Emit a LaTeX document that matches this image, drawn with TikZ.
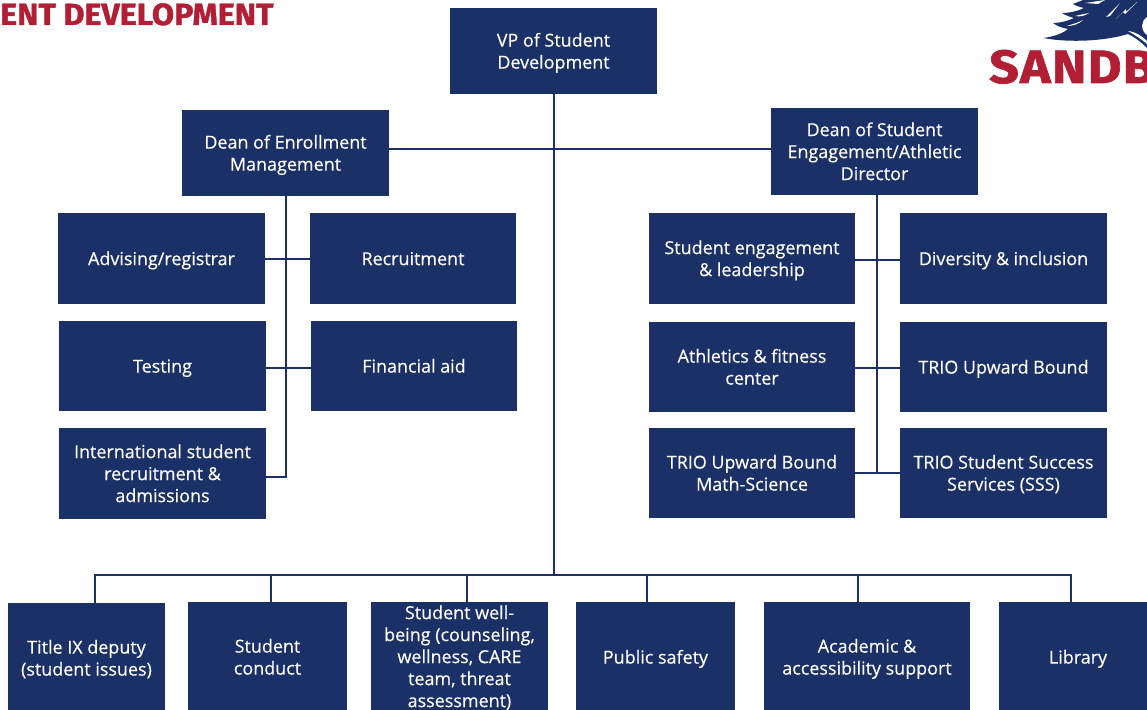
\documentclass[tikz,border=0pt]{standalone}
\usepackage{fontspec}
\setmainfont{Open Sans}[FakeBold=0.3]
\newfontfamily\logofont{Fira Sans}[UprightFont=* Bold,BoldFont=* Bold,FakeBold=1.2,FakeStretch=1.05]
\newfontfamily\logobig{Fira Sans}[UprightFont=* Bold,BoldFont=* Bold,FakeBold=1.5,FakeStretch=1.11,LetterSpace=3]
\definecolor{navy}{HTML}{1C3068}
\definecolor{sbred}{HTML}{B21F35}
\tikzset{
  box/.style={fill=navy,draw=none,text=white,inner sep=0pt,font=\fontsize{13.45}{16.5}\selectfont,anchor=center},
  link/.style={draw=navy,line width=1.4pt},
  logotext/.style={text=sbred,inner sep=0pt,anchor=base west}
}
\newsavebox{\lblbox}
% #1 name, #2 x1, #3 y1, #4 x2, #5 y2, #6 text
\newcommand{\orgbox}[6]{%
  \pgfmathsetmacro{\bw}{(#4-#2)*0.75}\pgfmathsetmacro{\bh}{(#5-#3)*0.75}%
  \node[box,minimum width=\bw pt,minimum height=\bh pt] (#1) at ({(#2+#4)/2},{(#3+#5)/2})
    {\sbox{\lblbox}{\begin{tabular}{@{}c@{}}#6\end{tabular}}\raisebox{-1.65pt}[\ht\lblbox][\dp\lblbox]{\usebox{\lblbox}}};}
\begin{document}
\begin{tikzpicture}[x=0.75pt,y=-0.75pt]
\useasboundingbox (0,0) rectangle (1147,710);
\clip (0,0) rectangle (1147,710);
% header text and logo
\node[logotext,font=\logofont\fontsize{23}{23}\selectfont] (header) at (0,25) {ENT DEVELOPMENT};
\fill[navy] (1043,38) .. controls (1052,37) and (1062,34) .. (1068,29)
  .. controls (1062,28) and (1057,26) .. (1053,23)
  .. controls (1060,23) and (1068,21) .. (1074,18)
  .. controls (1070,17) and (1065,15) .. (1062,13)
  .. controls (1070,13) and (1078,11) .. (1084,8)
  .. controls (1080,7) and (1076,6) .. (1073,4)
  -- (1083,0) -- (1147,0) -- (1147,48)
  .. controls (1141,42) and (1136,38) .. (1128,34)
  .. controls (1105,41) and (1070,43) .. (1043,38) -- cycle;
\fill[white] (1067,26) .. controls (1072,24) and (1078,23) .. (1083,20) .. controls (1079,24) and (1073,26) .. (1067,26) -- cycle
  (1075,16) .. controls (1079,15) and (1084,14) .. (1089,13) .. controls (1085,16) and (1080,17) .. (1075,16) -- cycle
  (1085,3) -- (1105,0) -- (1098,4) -- cycle
  (1106,17) -- (1120,3) -- (1110,16) -- cycle
  (1116,19) -- (1126,9) -- (1126,12) -- (1137,2) -- (1125,14) -- (1123,12) -- cycle
  (1147,17) .. controls (1141,21) and (1140,30) .. (1147,35) -- cycle
  (1128,31) .. controls (1136,32) and (1142,36) .. (1147,41) -- (1147,44) .. controls (1141,39) and (1135,35) .. (1128,31) -- cycle;
\node[logotext,font=\logobig\fontsize{35}{35}\selectfont] (logo) at (989,83) {SANDB};
% boxes
\orgbox{vp}{450}{8}{657}{94}{VP of Student\\Development}
\orgbox{deane}{182}{110}{389}{196}{Dean of Enrollment\\Management}
\orgbox{deans}{771}{108}{978}{195}{Dean of Student\\Engagement/Athletic\\Director}
\orgbox{adv}{58}{213}{265}{304}{Advising/registrar}
\orgbox{rec}{310}{213}{516}{304}{Recruitment}
\orgbox{test}{59}{321}{266}{411}{Testing}
\orgbox{fin}{311}{321}{517}{411}{Financial aid}
\orgbox{intl}{59}{428}{266}{519}{International student\\recruitment \&\\admissions}
\orgbox{eng}{649}{213}{855}{304}{Student engagement\\\& leadership}
\orgbox{div}{900}{213}{1107}{304}{Diversity \& inclusion}
\orgbox{ath}{649}{322}{855}{412}{Athletics \& fitness\\center}
\orgbox{ub}{900}{322}{1107}{412}{TRIO Upward Bound}
\orgbox{math}{649}{428}{855}{518}{TRIO Upward Bound\\Math-Science}
\orgbox{sss}{900}{428}{1107}{518}{TRIO Student Success\\Services (SSS)}
\orgbox{title}{8}{603}{165}{713}{Title IX deputy\\(student issues)}
\orgbox{cond}{188}{602}{347}{712}{Student\\conduct}
\orgbox{well}{371}{602}{548}{711}{Student well-\\being (counseling,\\wellness, CARE\\team, threat\\assessment)}
\orgbox{pub}{576}{602}{735}{712}{Public safety}
\orgbox{acad}{764}{602}{970}{712}{Academic \&\\accessibility support}
\orgbox{lib}{999}{602}{1157}{712}{Library}
% junction coordinates
\coordinate (bus) at (554,575);
\coordinate (busl) at (95,575);
\coordinate (busr) at (1071,575);
\coordinate (ejoin) at (286,477);
\coordinate (sjoin) at (877,473);
% connectors
\draw[link] (bus |- vp.south) -- (bus);
\draw[link] (deane.east |- 0,149) -- (deans.west |- 0,149);
\draw[link] (busl |- title.north) -- (busl) -- (busr) -- (busr |- lib.north);
\draw[link] (271,575) -- (271,602);
\draw[link] (467,575) -- (467,602);
\draw[link] (647,575) -- (647,602);
\draw[link] (858,575) -- (858,602);
\draw[link] (ejoin |- deane.south) -- (ejoin) -- (ejoin -| intl.east);
\draw[link] (adv.east |- 0,259) -- (rec.west |- 0,259);
\draw[link] (test.east |- 0,368) -- (fin.west |- 0,368);
\draw[link] (sjoin |- deans.south) -- (sjoin);
\draw[link] (eng.east |- 0,260) -- (div.west |- 0,260);
\draw[link] (ath.east |- 0,368) -- (ub.west |- 0,368);
\draw[link] (math.east |- sjoin) -- (sss.west |- sjoin);
\end{tikzpicture}
\end{document}
